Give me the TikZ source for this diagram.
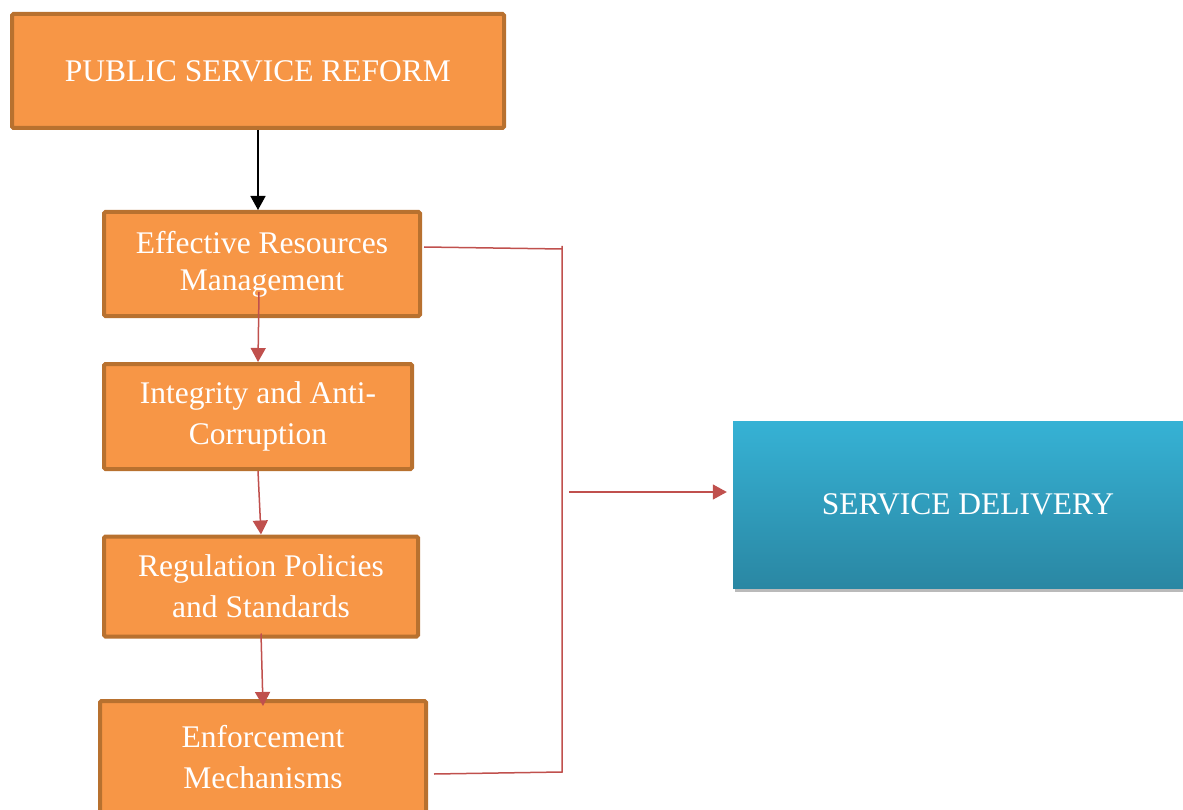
\documentclass[tikz,border=0pt]{standalone}
\usepackage{fontspec}
\setmainfont{Liberation Serif}
\usetikzlibrary{arrows.meta,calc,shadows}

\definecolor{arancio}{HTML}{F79646}
\definecolor{bordo}{HTML}{B8712F}
\definecolor{rosso}{HTML}{C0504D}
\definecolor{azzurro}{HTML}{36B2D5}
\definecolor{azzurroscuro}{HTML}{2A87A3}

\tikzset{
    blocco/.style={draw=bordo, line width=4pt, fill=arancio, rounded corners=1.5pt,
        text=white, align=center, font=\fontsize{31.5}{41}\selectfont, inner sep=0pt},
    risultato/.style={top color=azzurro, bottom color=azzurroscuro, text=white,
        font=\fontsize{31.5}{41}\selectfont, inner sep=0pt,
        drop shadow={shadow xshift=2pt, shadow yshift=-4pt, opacity=.45, fill=black!60}},
    freccia/.style={line width=1.5pt, -{Triangle[width=15pt,length=14pt]}},
    linea/.style={draw=rosso, line width=1.5pt}
}

\begin{document}
\begin{tikzpicture}[x=1pt, y=-1pt]
        \useasboundingbox (0,0) rectangle (1183,810);

        %%%%%%%%%% Nodi %%%%%%%%%%
        \node[blocco, minimum width=492pt, minimum height=114pt] (riforma) at (258,71) {PUBLIC SERVICE REFORM};
        \node[blocco, minimum width=316pt, minimum height=104pt, font=\fontsize{31.5}{37}\selectfont] (risorse) at (262,264) {Effective Resources\\Management};
        \node[blocco, minimum width=308pt, minimum height=105pt] (integrita) at (258,416.5) {Integrity and Anti-\\Corruption};
        \node[blocco, minimum width=314pt, minimum height=100pt] (regole) at (261,586.5) {Regulation Policies\\and Standards};
        \node[blocco, minimum width=326pt, minimum height=112pt] (controlli) at (263,757) {Enforcement\\Mechanisms};

        \node[risultato, minimum width=470pt, minimum height=167pt] (servizio) at (968,504.5) {SERVICE DELIVERY};

        \coordinate (giuntoA) at (562,249);
        \coordinate (giuntoB) at (562,772);
        \coordinate (uscita) at (569,492);

        %%%%%%%%% Frecce %%%%%%%%%
        \draw[freccia, black] (riforma.south) -- (riforma.south |- risorse.north);

        \draw[freccia, rosso] ($(risorse.south)+(-3,-26)$) -- (integrita.north);
        \draw[freccia, rosso] (integrita.south) -- (regole.north);
        \draw[freccia, rosso] ($(regole.south)+(0,-5)$) -- ($(controlli.north)+(0,7)$);

        \draw[linea] ($(risorse.east)+(2,-17)$) -- (giuntoA);
        \draw[linea] ($(giuntoA)+(0,-3)$) -- (giuntoB) -- ($(giuntoB -| controlli.east)+(6,2)$);
        \draw[freccia, rosso] (uscita) -- ($(servizio.west |- uscita)+(-6,0)$);
    \end{tikzpicture}
\end{document}
